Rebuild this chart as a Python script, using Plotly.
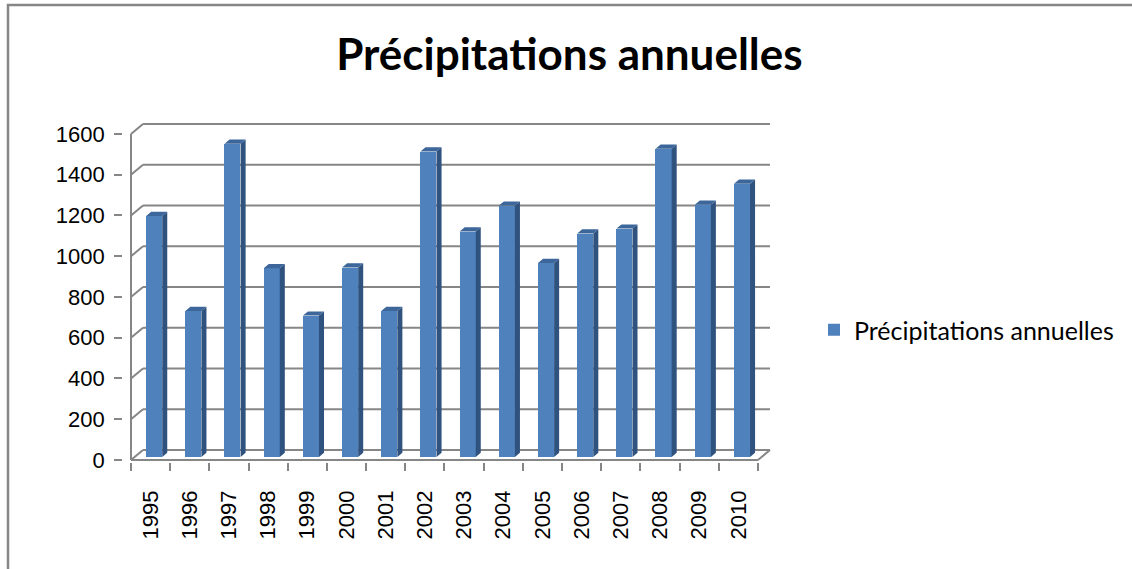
import plotly.graph_objects as go

# Annual precipitation per year
years = ["1995", "1996", "1997", "1998", "1999", "2000", "2001", "2002",
         "2003", "2004", "2005", "2006", "2007", "2008", "2009", "2010"]
precip = [1183, 717, 1538, 927, 694, 930, 717, 1500,
          1107, 1234, 952, 1097, 1121, 1513, 1238, 1341]
y_ticks = [0, 200, 400, 600, 800, 1000, 1200, 1400, 1600]
series_name = "Précipitations annuelles"

W, H = 1132, 569

# Pseudo-3D geometry (category units / value units)
DEPTH_X = 0.306      # front-to-back shift along x
DEPTH_Y = 49.0       # front-to-back shift along y
BAR_POS = 0.30       # depth fraction where the bar front face sits
BAR_DEPTH = 0.42     # bar thickness as fraction of the depth
BAR_W = 0.41

GRID = "#868686"
FRONT = "#4f81bd"
SIDE = "#30527e"
TOP = "#3d669a"

idx = list(range(len(years)))
n = len(years)

# axis ranges and the pixel box they map onto
x_rng = [-0.7, 15.9]
y_rng = [-10, 1670]
px_per_cat = 39.1875
px_per_val = 0.20375
cat0_px = 150.59
zero_px = 460.0
x_dom = [(cat0_px + x_rng[0] * px_per_cat) / W, (cat0_px + x_rng[1] * px_per_cat) / W]
y_dom = [(H - (zero_px - y_rng[0] * px_per_val)) / H, (H - (zero_px - y_rng[1] * px_per_val)) / H]

fig = go.Figure()

# front faces of the columns
fx = [i + BAR_POS * DEPTH_X for i in idx]
base = BAR_POS * DEPTH_Y
fig.add_trace(go.Bar(
    x=fx, y=precip, base=[base] * n, width=BAR_W,
    marker=dict(color=FRONT, line=dict(width=0)),
    name=series_name, showlegend=True, hoverinfo="skip",
))

# side and top faces
dx, dy = BAR_DEPTH * DEPTH_X, BAR_DEPTH * DEPTH_Y
side_x, side_y, top_x, top_y = [], [], [], []
for xc, v in zip(fx, precip):
    xl, xr = xc - BAR_W / 2, xc + BAR_W / 2
    yb, yt = base, base + v
    side_x += [xr, xr + dx, xr + dx, xr, xr, None]
    side_y += [yb, yb + dy, yt + dy, yt, yb, None]
    top_x += [xl, xl + dx, xr + dx, xr, xl, None]
    top_y += [yt, yt + dy, yt + dy, yt, yt, None]
fig.add_trace(go.Scatter(x=side_x, y=side_y, fill="toself", fillcolor=SIDE,
                         mode="lines", line=dict(width=0, color=SIDE),
                         showlegend=False, hoverinfo="skip"))
fig.add_trace(go.Scatter(x=top_x, y=top_y, fill="toself", fillcolor=TOP,
                         mode="lines", line=dict(width=0, color=TOP),
                         showlegend=False, hoverinfo="skip"))

# walls: back gridlines, left diagonals, vertical axis, floor
shapes = []
line = dict(color=GRID, width=2)
x_left, x_right = -0.5, n - 0.5
for v in y_ticks:
    shapes.append(dict(type="line", xref="x", yref="y", layer="below",
                       x0=x_left + DEPTH_X, x1=x_right + DEPTH_X,
                       y0=v + DEPTH_Y, y1=v + DEPTH_Y, line=line))
    shapes.append(dict(type="line", xref="x", yref="y", layer="below",
                       x0=x_left, x1=x_left + DEPTH_X,
                       y0=v, y1=v + DEPTH_Y, line=line))
shapes.append(dict(type="line", xref="x", yref="y", layer="below",
                   x0=x_left, x1=x_left, y0=0, y1=y_ticks[-1], line=line))
shapes.append(dict(type="line", xref="x", yref="y", layer="below",
                   x0=x_left, x1=x_right, y0=0, y1=0, line=line))
shapes.append(dict(type="line", xref="x", yref="y", layer="below",
                   x0=x_right, x1=x_right + DEPTH_X, y0=0, y1=DEPTH_Y, line=line))
# outer chart border
shapes.append(dict(type="rect", xref="paper", yref="paper",
                   x0=8 / W, x1=1.02, y0=-0.05, y1=(H - 5) / H,
                   line=dict(color=GRID, width=2.5), fillcolor="rgba(0,0,0,0)"))

fig.update_layout(
    width=W, height=H,
    margin=dict(l=0, r=0, t=0, b=0),
    paper_bgcolor="white", plot_bgcolor="white",
    shapes=shapes,
    title=dict(text="<b>" + series_name + "</b>", x=0.503, xanchor="center",
               y=1 - 55 / H, yanchor="middle", yref="container",
               font=dict(family="Lato", size=44, color="black")),
    legend=dict(x=814 / W, y=1 - 330 / H, xanchor="left", yanchor="middle",
                font=dict(family="Lato", size=25, color="black"),
                bgcolor="rgba(0,0,0,0)", itemclick=False),
    xaxis=dict(domain=x_dom, range=x_rng, showgrid=False, zeroline=False,
               showline=False, tickmode="array", tickvals=idx, ticktext=years,
               tickangle=-90, ticks="", ticklabelstandoff=23,
               tickfont=dict(family="Liberation Sans", size=22, color="black"),
               minor=dict(tickmode="array", tickvals=[i - 0.5 for i in range(n + 1)],
                          ticks="outside", ticklen=8, tickwidth=2, tickcolor=GRID),
               automargin=False, fixedrange=True),
    yaxis=dict(domain=y_dom, range=y_rng, showgrid=False, zeroline=False,
               showline=False, tickmode="array", tickvals=y_ticks,
               ticks="outside", ticklen=8, tickwidth=2, tickcolor=GRID,
               ticklabelstandoff=5,
               tickfont=dict(family="Liberation Sans", size=22, color="black"),
               automargin=False, fixedrange=True),
    bargap=0,
)

fig.write_html("out.html")
